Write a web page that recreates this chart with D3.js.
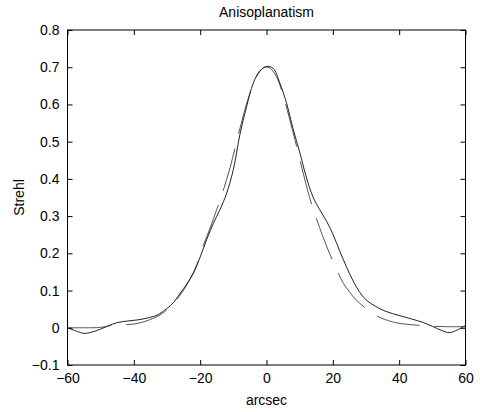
<!DOCTYPE html>
<html><head><meta charset="utf-8">
<script src="https://cdn.jsdelivr.net/npm/d3@7"></script>
<style>body{margin:0;background:#fff}svg{display:block}text{font-family:"Liberation Sans",Arial,sans-serif;fill:#000}</style>
</head><body>
<svg id="c" width="480" height="412"></svg>
<script>
const xTicks = [-60, -40, -20, 0, 20, 40, 60];
const yTicks = [-0.1, 0, 0.1, 0.2, 0.3, 0.4, 0.5, 0.6, 0.7, 0.8];
const solidX = [-60,-57,-55,-52,-48,-45,-42,-39,-36,-33,-30,-28,-26,-24,-22,-20,-18,-16,-14,-12,-10,-8,-6,-4,-2,0,2,4,6,8,10,12,14,16,18,20,22,24,26,28,30,33,36,40,44,47,50,53,55,57,60];
const solidY = [0.000,-0.010,-0.015,-0.010,0.004,0.014,0.018,0.021,0.026,0.034,0.052,0.068,0.093,0.118,0.147,0.190,0.238,0.281,0.318,0.362,0.425,0.520,0.594,0.657,0.690,0.702,0.697,0.658,0.605,0.535,0.472,0.405,0.352,0.318,0.288,0.252,0.208,0.166,0.128,0.097,0.075,0.057,0.044,0.033,0.023,0.015,0.004,-0.008,-0.013,-0.008,0.006];
const dashX = [-60,-55,-50,-47,-44,-40,-37,-34,-31,-29,-26,-23,-21,-19,-17,-15,-13,-11,-9,-7,-5,-3,-1,0,1,3,5,7,9,11,13,15,17,19,21,23,25,27,30,33,35.5,38,40,44,48,54,60];
const dashY = [0.000,0.000,0.001,0.006,0.008,0.010,0.016,0.026,0.041,0.058,0.088,0.132,0.170,0.222,0.268,0.318,0.370,0.430,0.500,0.570,0.630,0.675,0.698,0.700,0.698,0.675,0.625,0.560,0.490,0.418,0.350,0.295,0.245,0.200,0.160,0.122,0.097,0.075,0.052,0.033,0.023,0.016,0.012,0.008,0.005,0.003,0.003];

const L = 67.5, R = 465.5, T = 30, B = 365;
const svg = d3.select("#c");
const x = d3.scaleLinear().domain([-60, 60]).range([L, R]);
const y = d3.scaleLinear().domain([-0.1, 0.8]).range([B, T]);

const line = d3.line().x(d => x(d[0])).y(d => y(d[1])).curve(d3.curveCatmullRom);
const solid = solidX.map((v, i) => [v, solidY[i]]);
const dashed = dashX.map((v, i) => [v, dashY[i]]);

const g = svg.append("g");
g.append("path").attr("d", line(dashed)).attr("fill", "none").attr("stroke", "#555").attr("stroke-width", 1).attr("stroke-dasharray", "44,15");
g.append("path").attr("d", line(solid)).attr("fill", "none").attr("stroke", "#222").attr("stroke-width", 1);

const fs = 14;
const ax = svg.append("g").attr("class", "axes");
ax.append("g").attr("transform", `translate(0,${B})`)
  .call(d3.axisBottom(x).tickValues(xTicks).tickSize(-5).tickPadding(8).tickFormat(d3.format("d")))
  .call(s => { s.select(".domain").remove(); s.selectAll("line").attr("stroke", "#000"); s.selectAll("text").attr("font-size", fs).attr("font-family", "Liberation Sans, Arial, sans-serif"); });
ax.append("g").attr("transform", `translate(0,${T})`)
  .call(d3.axisTop(x).tickValues(xTicks).tickSize(-5).tickFormat(""))
  .call(s => { s.select(".domain").remove(); s.selectAll("line").attr("stroke", "#000"); });
ax.append("g").attr("transform", `translate(${L},0)`)
  .call(d3.axisLeft(y).tickValues(yTicks).tickSize(-5).tickPadding(8).tickFormat(d => d === 0 ? "0" : d3.format(".1f")(d)))
  .call(s => { s.select(".domain").remove(); s.selectAll("line").attr("stroke", "#000"); s.selectAll("text").attr("font-size", fs).attr("font-family", "Liberation Sans, Arial, sans-serif"); });
ax.append("g").attr("transform", `translate(${R},0)`)
  .call(d3.axisRight(y).tickValues(yTicks).tickSize(-5).tickFormat(""))
  .call(s => { s.select(".domain").remove(); s.selectAll("line").attr("stroke", "#000"); });
ax.append("rect").attr("x", L).attr("y", T).attr("width", R - L).attr("height", B - T)
  .attr("fill", "none").attr("stroke", "#000").attr("stroke-width", 1);

svg.append("text").attr("x", (L + R) / 2).attr("y", 17).attr("text-anchor", "middle").attr("font-size", fs).text("Anisoplanatism");
svg.append("text").attr("x", (L + R) / 2).attr("y", 405).attr("text-anchor", "middle").attr("font-size", fs).text("arcsec");
svg.append("text").attr("transform", `translate(24,${(T + B) / 2}) rotate(-90)`).attr("text-anchor", "middle").attr("font-size", fs).text("Strehl");
</script>
</body></html>
